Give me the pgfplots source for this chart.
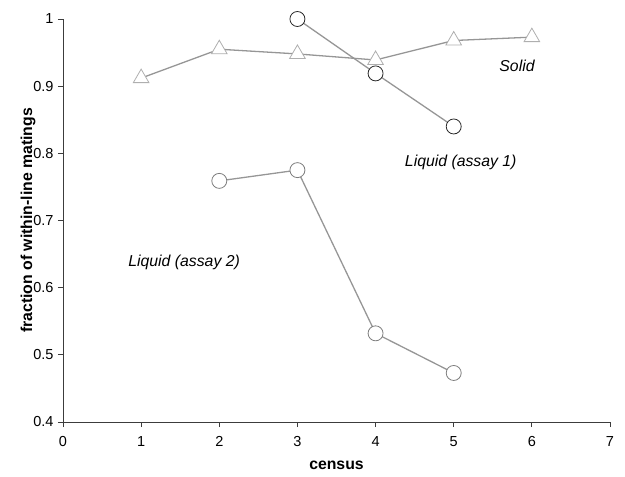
\documentclass[border=0pt]{standalone}
\usepackage{fontspec}
\setmainfont{Liberation Sans}
\usepackage{pgfplots}
\pgfplotsset{compat=1.18}

\definecolor{lineg}{RGB}{150,150,150}
\definecolor{axisg}{RGB}{60,60,60}
\definecolor{darkedge}{RGB}{40,40,40}
\definecolor{midedge}{RGB}{125,125,125}
\definecolor{triedge}{RGB}{175,175,175}

\begin{document}
\begin{tikzpicture}
\useasboundingbox (-63bp,-55bp) rectangle (562bp,422bp);
\begin{axis}[
    at={(0,0)}, anchor=south west,
    scale only axis,
    width=547bp, height=403bp,
    xmin=0, xmax=7,
    ymin=0.4, ymax=1,
    xtick={0,1,2,3,4,5,6,7},
    ytick={0.4,0.5,0.6,0.7,0.8,0.9,1},
    axis x line*=bottom,
    axis y line*=left,
    axis line style={axisg, line width=1pt, -},
    tick align=outside,
    major tick length=5bp,
    tick style={axisg, line width=0.9pt},
    /pgf/number format/assume math mode=true,
    ticklabel style={font=\fontsize{14.5bp}{17bp}\selectfont},
    xticklabel style={yshift=-6bp},
    yticklabel style={xshift=-1bp},
    xlabel={census},
    ylabel={fraction of within-line matings},
    label style={font=\fontsize{15.8bp}{18bp}\selectfont\bfseries},
    xlabel style={at={(axis description cs:0.5,-0.107)}, anchor=center},
    ylabel style={at={(axis description cs:-0.064,0.5)}, anchor=center},
    clip=false,
]
% Solid
\addplot[lineg, line width=1.3pt, mark=triangle*, mark size=9bp,
    mark options={draw=triedge, fill=white, line width=0.8pt}]
    coordinates {(1,0.912)(2,0.955)(3,0.948)(4,0.939)(5,0.968)(6,0.973)};
% Liquid (assay 1)
\addplot[lineg, line width=1.3pt, mark=*, mark size=7.5bp,
    mark options={draw=darkedge, fill=white, line width=0.8pt}]
    coordinates {(3,1.0)(4,0.919)(5,0.840)};
% Liquid (assay 2)
\addplot[lineg, line width=1.3pt, mark=*, mark size=7.5bp,
    mark options={draw=midedge, fill=white, line width=0.8pt}]
    coordinates {(2,0.759)(3,0.775)(4,0.532)(5,0.473)};

\node[font=\fontsize{15.8bp}{18bp}\selectfont\itshape] at (axis cs:5.81,0.930) {Solid};
\node[font=\fontsize{15.8bp}{18bp}\selectfont\itshape] at (axis cs:5.09,0.786) {Liquid (assay 1)};
\node[font=\fontsize{15.8bp}{18bp}\selectfont\itshape] at (axis cs:1.55,0.638) {Liquid (assay 2)};
\end{axis}
\end{tikzpicture}
\end{document}
